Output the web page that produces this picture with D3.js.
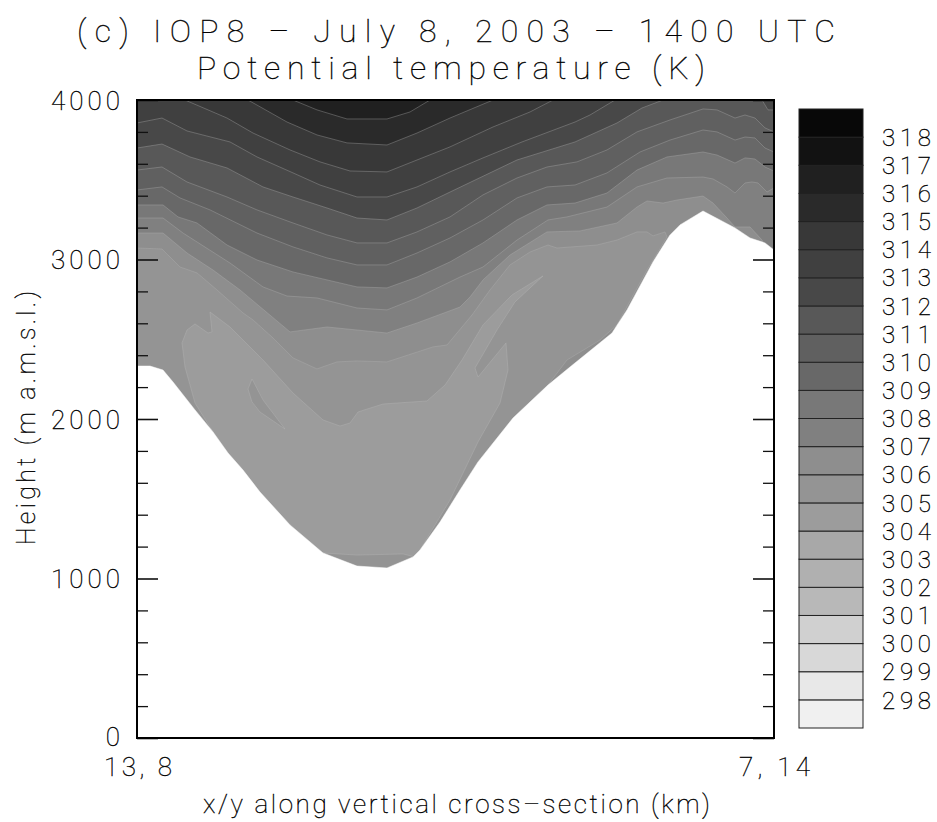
<!DOCTYPE html>
<html><head><meta charset="utf-8">
<script src="https://cdn.jsdelivr.net/npm/d3@7"></script>
<style>
html,body{margin:0;padding:0;background:#fff}
svg{display:block;opacity:.995}
text{font-family:"Roboto","Lato","Open Sans",sans-serif;font-weight:100;fill:#000;stroke:#000;stroke-width:.35px}
</style></head><body><div id="chart"></div>
<script>
const titleLines = ["(c) IOP8 – July 8, 2003 – 1400 UTC", "Potential temperature (K)"];
const yAxisTitle = "Height (m a.m.s.l.)";
const xAxisTitle = "x/y along vertical cross–section (km)";
const xEndLabels = ["13, 8", "7, 14"];
const majorHeights = [0, 1000, 2000, 3000, 4000];
const minorHeights = [200,400,600,800,1200,1400,1600,1800,2200,2400,2600,2800,3200,3400,3600,3800];
const legendLevels = [318,317,316,315,314,313,312,311,310,309,308,307,306,305,304,303,302,301,300,299,298];
const legendGreys = ["#080808","#121212","#202020","#2a2a2a","#383838","#404040","#484848","#585858","#606060","#686868","#787878","#808080","#8e8e8e","#949494","#9c9c9c","#a8a8a8","#b0b0b0","#b8b8b8","#d0d0d0","#d8d8d8","#e8e8e8","#f0f0f0"];
// position along the section (0-637), height (m)
const theta316 = [[156,4000],[180,3938],[210,3881],[250,3881],[273,3925],[293,4000]];
const theta315 = [[111,4000],[150,3862],[180,3781],[210,3731],[250,3718],[280,3793],[313,3887],[356,4000]];
const theta314 = [[48,4000],[90,3887],[116,3793],[153,3687],[183,3612],[213,3555],[250,3549],[280,3624],[313,3706],[356,3831],[393,3925],[416,4000]];
const theta313 = [[0,3856],[25,3887],[50,3806],[93,3737],[120,3643],[156,3543],[183,3467],[220,3392],[250,3392],[280,3455],[313,3549],[346,3637],[385,3737],[438,3862],[453,3906],[478,4000]];
const theta312 = [[0,3699],[25,3724],[53,3643],[90,3574],[126,3455],[156,3392],[190,3323],[220,3260],[250,3248],[280,3323],[313,3423],[380,3624],[438,3737],[480,3856],[505,3950],[526,4000],[625,4000],[631,3938],[637,3938]];
const theta311 = [[0,3561],[25,3580],[50,3486],[90,3392],[120,3311],[156,3229],[190,3154],[220,3104],[250,3104],[280,3173],[313,3267],[346,3405],[380,3511],[410,3580],[440,3612],[470,3687],[500,3800],[533,3875],[566,3944],[580,3938],[598,3887],[608,3906],[618,3887],[628,3825],[637,3800]];
const theta310 = [[0,3436],[25,3455],[43,3386],[73,3311],[120,3166],[156,3079],[190,3010],[220,2966],[250,2966],[280,3041],[313,3135],[346,3248],[380,3386],[410,3455],[438,3467],[470,3543],[503,3674],[533,3749],[566,3812],[580,3800],[598,3749],[608,3768],[618,3762],[628,3699],[637,3674]];
const theta309 = [[0,3342],[26,3342],[41,3267],[60,3229],[90,3091],[120,2997],[156,2922],[190,2872],[220,2828],[250,2822],[280,2890],[313,2985],[346,3104],[380,3248],[410,3342],[438,3354],[470,3417],[500,3561],[530,3643],[566,3674],[580,3655],[598,3605],[608,3637],[618,3630],[628,3580],[637,3555]];
const theta308 = [[0,3260],[26,3260],[46,3166],[93,2978],[126,2828],[150,2771],[180,2759],[220,2696],[250,2684],[280,2759],[323,2890],[346,2953],[380,3122],[411,3248],[430,3267],[470,3329],[500,3455],[530,3511],[566,3517],[576,3505],[590,3455],[598,3417],[608,3480],[615,3486],[621,3480],[630,3423],[637,3449]];
const theta307 = [[0,3166],[26,3166],[50,3041],[76,2934],[103,2809],[153,2546],[190,2577],[250,2539],[280,2602],[323,2702],[333,2765],[346,2872],[373,3028],[410,3173],[443,3179],[480,3229],[500,3329],[510,3367],[526,3354],[540,3373],[566,3398],[576,3354],[590,3260],[598,3204],[613,3204],[625,3122],[637,2997]];
const theta306 = [[0,3072],[25,3066],[43,2953],[60,2916],[80,2809],[106,2665],[116,2621],[136,2508],[156,2383],[180,2314],[200,2358],[220,2364],[250,2358],[296,2452],[310,2464],[335,2652],[353,2809],[373,2966],[393,3047],[411,3091],[420,3072],[460,3091],[480,3122],[500,3173],[510,3173],[516,3148],[528,3173],[530,3141],[510,2934],[480,2590],[463,2495],[430,2370],[411,2213],[423,1994],[637,1994]];
const theta305 = [[73,2671],[93,2577],[126,2370],[156,2163],[186,1994],[203,1956],[213,1975],[221,2044],[246,2094],[290,2113],[308,2213],[325,2370],[346,2590],[375,2778],[406,2897],[378,2734],[360,2558],[338,2320],[341,2263],[369,2477],[371,2307],[363,2100],[341,1856],[313,1492],[283,1179],[278,1135],[266,1154],[220,1147],[186,1160],[113,1367],[76,1919],[58,2100],[48,2326],[45,2477],[50,2558],[58,2596],[71,2539],[75,2546]];
const theta305Hole = [[115,2251],[111,2188],[115,2107],[123,2044],[148,1937],[126,2119]];
const terrain = [[0,2332],[13,2332],[26,2307],[36,2232],[58,2057],[76,1919],[91,1787],[106,1680],[123,1542],[153,1336],[186,1160],[220,1078],[250,1066],[276,1135],[283,1179],[303,1354],[323,1555],[341,1731],[376,2006],[411,2213],[433,2326],[475,2539],[490,2684],[516,2985],[533,3154],[543,3217],[566,3304],[598,3198],[613,3135],[628,3104],[637,3060]];
const openContours = [[theta306,306],[theta307,307],[theta308,308],[theta309,309],[theta310,310],[theta311,311],[theta312,312],[theta313,313],[theta314,314],[theta315,315],[theta316,316]];

const W=937,H=822;
const x=d3.scaleLinear().domain([0,637]).range([137,774]);
const y=d3.scaleLinear().domain([0,4000]).range([738,100]);
const legY=d3.scaleLinear().domain([297,319]).range([728,109]);
const grey=l=>legendGreys[318-l];
const line=d3.line().x(d=>x(d[0])).y(d=>y(d[1]));
const svg=d3.select("#chart").append("svg").attr("width",W).attr("height",H);
svg.append("rect").attr("width",W).attr("height",H).attr("fill","#fff");
svg.append("defs").append("clipPath").attr("id","plot").append("rect")
  .attr("x",x(0)).attr("y",y(4000)).attr("width",x(637)-x(0)).attr("height",y(0)-y(4000));
const plot=svg.append("g").attr("clip-path","url(#plot)");
plot.append("rect").attr("x",x(0)).attr("y",y(4000)).attr("width",x(637)-x(0)).attr("height",y(0)-y(4000)).attr("fill",grey(305));
const lineStroke="#b4b4b4";
openContours.forEach(([c,l])=>{
  const closed=c.concat([[637,4000],[0,4000]]);
  plot.append("path").attr("d",line(closed)+"Z").attr("fill",grey(l));
  plot.append("path").attr("d",line(c)).attr("fill","none").attr("stroke",lineStroke).attr("stroke-opacity",.45).attr("stroke-width",.8);
});
plot.append("path").attr("d",line(theta305)+"Z").attr("fill",grey(304)).attr("stroke",lineStroke).attr("stroke-opacity",.6).attr("stroke-width",.7);
plot.append("path").attr("d",line(theta305Hole)+"Z").attr("fill",grey(305)).attr("stroke",lineStroke).attr("stroke-opacity",.6).attr("stroke-width",.7);
plot.append("path").attr("d",line(terrain.concat([[637,0],[0,0]]))+"Z").attr("fill","#fff").attr("stroke","#fff").attr("stroke-width",.5);

function axisStyle(g,w){g.select(".domain").remove();g.selectAll("line").attr("stroke","#111").attr("stroke-width",w);}
const gl=svg.append("g").attr("transform",`translate(${x(0)},0)`);
gl.call(d3.axisLeft(y).tickValues(majorHeights).tickSize(-21).tickPadding(17).tickFormat(d3.format("d"))).call(axisStyle,1.6);
gl.selectAll("text").attr("font-size",26).attr("dy",d=>d===0?".28em":".36em").attr("textLength",d=>d===0?15:69).attr("lengthAdjust","spacing");
svg.append("g").attr("transform",`translate(${x(0)},0)`).call(d3.axisLeft(y).tickValues(minorHeights).tickSize(-11).tickFormat("")).call(axisStyle,1.3);
svg.append("g").attr("transform",`translate(${x(637)},0)`).call(d3.axisRight(y).tickValues(majorHeights).tickSize(-21).tickFormat("")).call(axisStyle,1.6);
svg.append("g").attr("transform",`translate(${x(637)},0)`).call(d3.axisRight(y).tickValues(minorHeights).tickSize(-11).tickFormat("")).call(axisStyle,1.3);
svg.append("rect").attr("x",x(0)).attr("y",y(4000)).attr("width",x(637)-x(0)).attr("height",y(0)-y(4000)).attr("fill","none").attr("stroke","#000").attr("stroke-width",2);

// legend
const boxes=d3.range(297,319);
svg.append("g").selectAll("rect").data(boxes).join("rect")
  .attr("x",799).attr("width",64).attr("y",d=>legY(d+1)).attr("height",d=>legY(d)-legY(d+1))
  .attr("fill",d=>grey(d)).attr("stroke","#222").attr("stroke-width",1);
const txt=(s,px,py,fs,len,anchor)=>svg.append("text").text(s).attr("x",px).attr("y",py).attr("font-size",fs)
  .attr("text-anchor",anchor||"start").attr("textLength",len).attr("lengthAdjust","spacing");
svg.append("g").selectAll("text").data(legendLevels).join("text").text(d=>d)
  .attr("x",882).attr("y",d=>legY(d)).attr("dy",".36em").attr("font-size",24).attr("textLength",49).attr("lengthAdjust","spacing");
txt(titleLines[0],77,41.5,32,758);
txt(titleLines[1],197,79,32,508);
txt(xEndLabels[0],104,776,26,68);
txt(xEndLabels[1],739,776,26,71);
txt(xAxisTitle,203,813,26,507);
const ya=txt(yAxisTitle,0,0,25,254);
ya.attr("transform","translate(35,545) rotate(-90)");
</script></body></html>
